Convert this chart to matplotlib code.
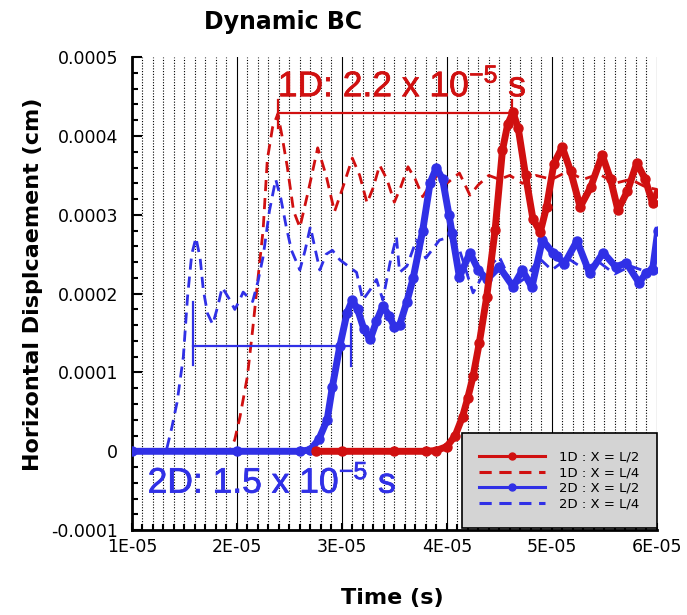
import matplotlib
matplotlib.use("Agg")
import matplotlib.pyplot as plt
import matplotlib.patheffects as pe
from matplotlib.ticker import MultipleLocator, FuncFormatter
from matplotlib.lines import Line2D

plt.rcParams["font.family"] = ["DejaVu Sans"]
plt.rcParams["mathtext.fontset"] = "custom"
plt.rcParams["mathtext.rm"] = "Liberation Sans"

# time in units of 1e-5 s, displacement in units of 1e-4 cm
t_1d_half = [2.75, 3.0, 3.5, 3.8, 3.9, 4.0, 4.08, 4.15, 4.2, 4.25, 4.31, 4.38,
             4.46, 4.53, 4.58, 4.63, 4.68, 4.75, 4.82, 4.89, 4.95, 5.02, 5.10,
             5.18, 5.27, 5.37, 5.48, 5.56, 5.63, 5.72, 5.81, 5.89, 5.96, 6.01]
u_1d_half = [0, 0, 0, 0, 0.01, 0.06, 0.2, 0.44, 0.68, 0.95, 1.38, 1.96,
             2.81, 3.82, 4.15, 4.30, 4.1, 3.5, 2.95, 2.78, 3.1, 3.65, 3.86,
             3.55, 3.1, 3.35, 3.76, 3.45, 3.06, 3.3, 3.66, 3.45, 3.15, 3.28]

t_1d_quar = [1.0, 1.5, 1.8, 1.93, 1.98, 2.03, 2.10, 2.15, 2.20, 2.25, 2.29, 2.34,
             2.39, 2.43, 2.48, 2.54, 2.60, 2.68, 2.77, 2.85, 2.93, 3.01, 3.10,
             3.17, 3.24, 3.30, 3.36, 3.43, 3.50, 3.56, 3.63, 3.70, 3.77, 3.84,
             3.92, 4.00, 4.12, 4.22, 4.30, 4.40, 4.50, 4.60, 4.72, 4.85, 5.00,
             5.15, 5.30, 5.45, 5.60, 5.75, 5.90, 6.01]
u_1d_quar = [0, 0, 0, 0, 0.15, 0.44, 0.95, 1.54, 2.18, 2.81, 3.7, 4.11,
             4.28, 4.0, 3.61, 3.05, 2.84, 3.3, 3.85, 3.5, 3.04, 3.35, 3.72,
             3.5, 3.15, 3.35, 3.63, 3.45, 3.16, 3.35, 3.61, 3.45, 3.23, 3.38,
             3.52, 3.4, 3.53, 3.25, 3.38, 3.5, 3.45, 3.5, 3.4, 3.5, 3.45,
             3.55, 3.45, 3.52, 3.40, 3.45, 3.35, 3.32]

t_2d_half = [1.0, 2.0, 2.6, 2.7, 2.78, 2.86, 2.91, 2.98, 3.05, 3.10, 3.15, 3.21,
             3.27, 3.33, 3.39, 3.45, 3.50, 3.55, 3.62, 3.68, 3.77, 3.84, 3.90,
             3.96, 4.02, 4.05, 4.12, 4.22, 4.30, 4.38, 4.50, 4.63, 4.72, 4.81,
             4.91, 5.01, 5.05, 5.12, 5.24, 5.36, 5.49, 5.61, 5.71, 5.83, 5.90,
             5.96, 6.01]
u_2d_half = [0, 0, 0, 0.02, 0.15, 0.4, 0.82, 1.33, 1.76, 1.92, 1.80, 1.55,
             1.42, 1.65, 1.84, 1.72, 1.58, 1.60, 1.9, 2.2, 2.8, 3.4, 3.6,
             3.45, 3.0, 2.77, 2.21, 2.52, 2.3, 2.18, 2.34, 2.09, 2.30, 2.08,
             2.68, 2.52, 2.48, 2.38, 2.67, 2.26, 2.52, 2.34, 2.39, 2.14, 2.26,
             2.30, 2.80]

t_2d_quar = [1.0, 1.2, 1.33, 1.38, 1.43, 1.49, 1.53, 1.57, 1.61, 1.65, 1.68, 1.72,
             1.77, 1.82, 1.86, 1.92, 1.98, 2.02, 2.06, 2.11, 2.15, 2.20, 2.25,
             2.31, 2.37, 2.42, 2.47, 2.52, 2.60, 2.65, 2.70, 2.74, 2.79, 2.85,
             2.91, 2.98, 3.06, 3.14, 3.20, 3.27, 3.33, 3.39, 3.46, 3.52, 3.55,
             3.62, 3.71, 3.80, 3.93, 4.03, 4.12, 4.25, 4.37, 4.50, 4.63, 4.75,
             4.88, 5.00, 5.15, 5.30, 5.45, 5.60, 5.75, 5.90, 6.01]
u_2d_quar = [0, 0, 0.02, 0.3, 0.62, 1.2, 1.96, 2.5, 2.71, 2.45, 2.05, 1.75,
             1.61, 1.85, 2.08, 1.95, 1.80, 1.90, 2.02, 1.95, 1.90, 2.15, 2.47,
             3.05, 3.45, 3.2, 2.85, 2.55, 2.30, 2.55, 2.85, 2.6, 2.30, 2.5,
             2.55, 2.43, 2.35, 2.27, 1.92, 2.05, 2.18, 1.92, 2.40, 2.72, 2.27,
             2.35, 2.68, 2.45, 2.68, 2.72, 2.56, 2.01, 2.3, 2.47, 2.09, 2.2,
             2.45, 2.30, 2.45, 2.32, 2.40, 2.25, 2.35, 2.28, 2.45]

# arrival-time brackets (t_start, t_end, level, left tick span, right tick span)
bracket_1d = [2.39, 4.62, 4.29, (4.10, 4.46), (4.20, 4.46)]
bracket_2d = [1.58, 3.09, 1.34, (1.10, 1.90), (1.08, 1.61)]

RED = "#d01010"
BLUE = "#3030e6"
T, U = 1e-5, 1e-4
DASH = (0, (4, 2.5))


def sc(ts, us):
    return [t * T for t in ts], [u * U for u in us]


fig = plt.figure(figsize=(6.87, 6.15), dpi=100)
ax = fig.add_axes([0.192, 0.138, 0.764, 0.769])

x, y = sc(t_1d_quar, u_1d_quar)
ax.plot(x, y, color=RED, lw=2, ls=DASH, zorder=2)
x, y = sc(t_2d_quar, u_2d_quar)
ax.plot(x, y, color=BLUE, lw=2, ls=DASH, zorder=3)
x, y = sc(t_2d_half, u_2d_half)
ax.plot(x, y, color=BLUE, lw=5, marker="o", ms=6.5, zorder=4)
x, y = sc(t_1d_half, u_1d_half)
ax.plot(x, y, color=RED, lw=5, marker="o", ms=6.5, zorder=5)

for br, col in [(bracket_1d, RED), (bracket_2d, BLUE)]:
    t0, t1, lev, lspan, rspan = br
    ax.plot([t0 * T, t1 * T], [lev * U, lev * U], color=col, lw=1.6, zorder=6)
    ax.plot([t0 * T, t0 * T], [lspan[0] * U, lspan[1] * U], color=col, lw=1.6, zorder=6)
    ax.plot([t1 * T, t1 * T], [rspan[0] * U, rspan[1] * U], color=col, lw=1.6, zorder=6)

ann = dict(fontsize=25.5, family="Liberation Sans", va="center", ha="left", zorder=7)
for txt, tx, ty, col in [(r"1D: 2.2 x 10$^{-5}$ s", 2.39, 4.65, RED),
                         (r"2D: 1.5 x 10$^{-5}$ s", 1.15, -0.38, BLUE)]:
    ax.text(tx * T, ty * U, txt, color=col, **ann,
            path_effects=[pe.withStroke(linewidth=0.5, foreground=col)])

ax.set_xlim(1e-5, 6e-5)
ax.set_ylim(-1e-4, 5e-4)
ax.xaxis.set_major_locator(MultipleLocator(1e-5))
ax.xaxis.set_minor_locator(MultipleLocator(1e-6))
ax.yaxis.set_major_locator(MultipleLocator(1e-4))
ax.yaxis.set_minor_locator(MultipleLocator(2e-5))
ax.xaxis.set_major_formatter(FuncFormatter(lambda v, p: f"{v:.0E}"))
ax.yaxis.set_major_formatter(
    FuncFormatter(lambda v, p: "0" if abs(v) < 1e-12 else f"{v:.4f}"))

ax.grid(True, axis="x", which="major", color="black", lw=0.8, ls="-")
ax.grid(True, axis="x", which="minor", color="black", lw=0.8, ls=(0, (1, 1.5)))
ax.set_axisbelow(True)

for s in ["top", "right"]:
    ax.spines[s].set_visible(False)
for s in ["left", "bottom"]:
    ax.spines[s].set_linewidth(2)

ax.tick_params(which="both", direction="in", labelsize=12.5, width=1.5, colors="black")
ax.tick_params(which="major", length=7)
ax.tick_params(which="minor", length=4)
ax.tick_params(axis="y", which="major", pad=10)
ax.tick_params(axis="x", which="major", length=5, pad=6)

ax.set_xlabel("Time (s)", fontsize=16, fontweight="bold")
ax.set_ylabel("Horizontal Displcaement (cm)", fontsize=16, fontweight="bold")
ax.xaxis.set_label_coords(0.497, -0.123)
ax.yaxis.set_label_coords(-0.17, 0.52)
fig.text(0.412, 0.964, "Dynamic BC", fontsize=17, fontweight="bold",
         ha="center", va="center")

handles = [
    Line2D([], [], color=RED, lw=2.2, marker="o", ms=5),
    Line2D([], [], color=RED, lw=2.2, ls=DASH),
    Line2D([], [], color=BLUE, lw=2.2, marker="o", ms=5),
    Line2D([], [], color=BLUE, lw=2.2, ls=DASH),
]
labels = ["1D : X = L/2", "1D : X = L/4", "2D : X = L/2", "2D : X = L/4"]
leg = ax.legend(handles, labels, loc="lower right", bbox_to_anchor=(1.0, 0.004),
                fontsize=9.5, handlelength=5.0, numpoints=1, fancybox=False,
                framealpha=1, facecolor="#d4d4d4", edgecolor="black",
                borderpad=1.35, labelspacing=0.2, handletextpad=1.0,
                borderaxespad=0)
leg.get_frame().set_linewidth(1.2)
leg.set_zorder(10)

fig.savefig("out.png", dpi=100)
